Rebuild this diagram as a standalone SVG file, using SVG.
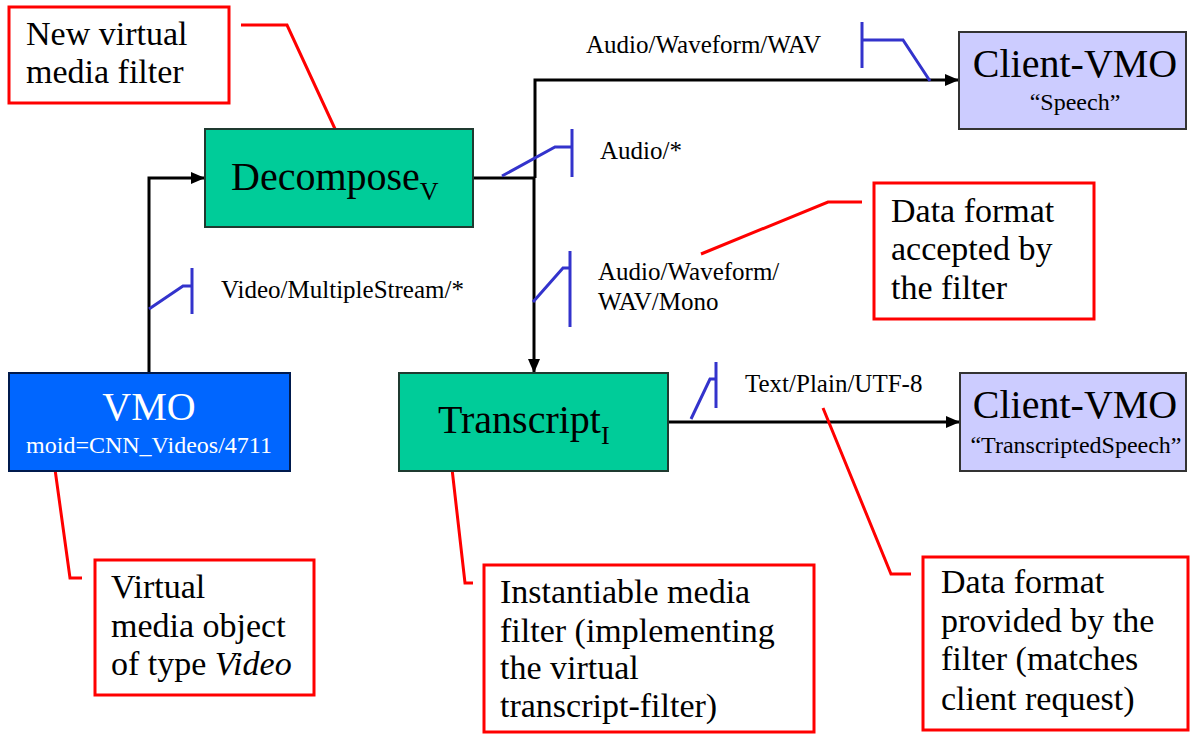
<svg xmlns="http://www.w3.org/2000/svg" width="1191" height="737" viewBox="0 0 1191 737">
<style>
  text { font-family: "Liberation Serif", "Times New Roman", serif; fill: #000; }
  .big { font-size: 40px; }
  .sub { font-size: 26px; }
  .lbl { font-size: 25px; }
  .sm { font-size: 24px; }
  .call { font-size: 34px; }
  .white { fill: #fff; }
  .filter { fill: #00CC99; stroke: #1f3a30; stroke-width: 2; }
  .vmo { fill: #0066FF; stroke: #001a4d; stroke-width: 2; }
  .client { fill: #CCCCFF; stroke: #333; stroke-width: 2; }
  .note { fill: #fff; stroke: #FF0000; stroke-width: 3; }
  .conn { fill: none; stroke: #000; stroke-width: 3; }
  .tick { fill: none; stroke: #3333CC; stroke-width: 3; }
  .lead { fill: none; stroke: #FF0000; stroke-width: 3; }
</style>
<defs>
  <marker id="arr" markerUnits="userSpaceOnUse" markerWidth="14" markerHeight="12" refX="13" refY="6" orient="auto">
    <path d="M0,0 L14,6 L0,12 z" fill="#000"/>
  </marker>
</defs>
<rect width="1191" height="737" fill="#fff"/>

<g id="connectors">
  <path class="conn" d="M149,373 V178 H204" marker-end="url(#arr)"/>
  <path class="conn" d="M473,178 H535" stroke-width="4"/>
  <path class="conn" d="M535,178 V80 H958" marker-end="url(#arr)"/>
  <path class="conn" d="M534,178 V372" marker-end="url(#arr)"/>
  <path class="conn" d="M668,422 H959" stroke-width="4" marker-end="url(#arr)"/>
</g>

<g id="format-ticks">
  <line class="tick" x1="862" y1="22" x2="862" y2="68"/>
  <polyline class="tick" points="862,40 903,40 930,81"/>
  <line class="tick" x1="572" y1="129" x2="572" y2="177"/>
  <polyline class="tick" points="572,147 555,147 502,176"/>
  <line class="tick" x1="192" y1="268" x2="192" y2="314"/>
  <polyline class="tick" points="192,286 183,286 149,309"/>
  <line class="tick" x1="570" y1="251" x2="570" y2="327"/>
  <polyline class="tick" points="570,268 563,268 533,302"/>
  <line class="tick" x1="716" y1="362" x2="716" y2="408"/>
  <polyline class="tick" points="716,379 710,379 691,419"/>
</g>

<g id="format-labels">
  <text class="lbl" x="586" y="53">Audio/Waveform/WAV</text>
  <text class="lbl" x="600" y="159">Audio/*</text>
  <text class="lbl" x="221" y="298">Video/MultipleStream/*</text>
  <text class="lbl" x="598" y="280">Audio/Waveform/</text>
  <text class="lbl" x="598" y="310">WAV/Mono</text>
  <text class="lbl" x="745" y="392">Text/Plain/UTF-8</text>
</g>

<g id="leaders">
  <polyline class="lead" points="241,25 287,25 342,144"/>
  <polyline class="lead" points="701,254 828,202 862,202"/>
  <polyline class="lead" points="54,462 70,578 82,578"/>
  <polyline class="lead" points="450,451 465,583 473,583"/>
  <polyline class="lead" points="823,408 891,574 911,574"/>
</g>

<g id="decompose">
  <rect class="filter" x="205" y="129" width="268" height="98"/>
  <text class="big" x="231" y="190">Decompose<tspan class="sub" dy="10">V</tspan></text>
</g>

<g id="transcript">
  <rect class="filter" x="399" y="373" width="269" height="98"/>
  <text class="big" x="438" y="433">Transcript<tspan class="sub" dy="11">I</tspan></text>
</g>

<g id="vmo">
  <rect class="vmo" x="9" y="373" width="281" height="98"/>
  <text class="big white" x="149" y="420" text-anchor="middle">VMO</text>
  <text class="sm white" x="149" y="453" text-anchor="middle">moid=CNN_Videos/4711</text>
</g>

<g id="client-speech">
  <rect class="client" x="959" y="32" width="227" height="97"/>
  <text class="big" x="1075" y="77" text-anchor="middle">Client-VMO</text>
  <text class="sm" x="1075" y="110" text-anchor="middle">“Speech”</text>
</g>

<g id="client-transcripted">
  <rect class="client" x="960" y="373" width="226" height="98"/>
  <text class="big" x="1075" y="418" text-anchor="middle">Client-VMO</text>
  <text class="sm" x="1076" y="453" text-anchor="middle">“TranscriptedSpeech”</text>
</g>

<g id="note-new-filter">
  <rect class="note" x="9" y="7" width="220" height="96"/>
  <text class="call" x="26" y="45">New virtual</text>
  <text class="call" x="26" y="83">media filter</text>
</g>

<g id="note-accepted">
  <rect class="note" x="874" y="183" width="220" height="136"/>
  <text class="call" x="891" y="222">Data format</text>
  <text class="call" x="891" y="260">accepted by</text>
  <text class="call" x="891" y="299">the filter</text>
</g>

<g id="note-vmo">
  <rect class="note" x="95" y="560" width="219" height="135"/>
  <text class="call" x="111" y="598">Virtual</text>
  <text class="call" x="111" y="637">media object</text>
  <text class="call" x="111" y="675">of type <tspan font-style="italic">Video</tspan></text>
</g>

<g id="note-instantiable">
  <rect class="note" x="484" y="565" width="330" height="167"/>
  <text class="call" x="500" y="603">Instantiable media</text>
  <text class="call" x="500" y="642">filter (implementing</text>
  <text class="call" x="500" y="679">the virtual</text>
  <text class="call" x="500" y="717">transcript-filter)</text>
</g>

<g id="note-provided">
  <rect class="note" x="923" y="557" width="265" height="173"/>
  <text class="call" x="941" y="593">Data format</text>
  <text class="call" x="941" y="632">provided by the</text>
  <text class="call" x="941" y="670">filter (matches</text>
  <text class="call" x="941" y="710">client request)</text>
</g>
</svg>
